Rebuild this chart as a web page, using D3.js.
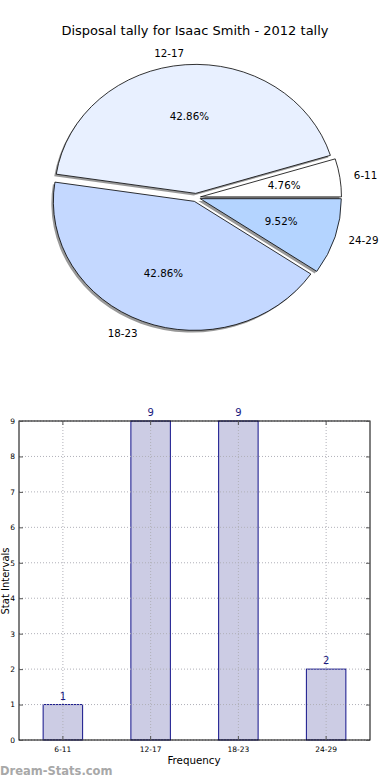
<!DOCTYPE html>
<html><head><meta charset="utf-8">
<script src="https://cdn.jsdelivr.net/npm/d3@7"></script>
<style>html,body{margin:0;padding:0;background:#fff;}svg{display:block;font-family:"DejaVu Sans",sans-serif;}</style>
</head><body>
<script>
const title = "Disposal tally for Isaac Smith - 2012 tally";
const categories = ["6-11", "12-17", "18-23", "24-29"];
const counts = [1, 9, 9, 2];
const pieColors = ["#ffffff", "#e8f0ff", "#c4d8ff", "#b4d4ff"];
const yTicks = [0, 1, 2, 3, 4, 5, 6, 7, 8, 9];
const xLabel = "Frequency";
const yLabel = "Stat Intervals";
const watermark = "Dream-Stats.com";

const W = 390, H = 780;
const svg = d3.select("body").append("svg").attr("width", W).attr("height", H);

// ---------- Title ----------
svg.append("text").attr("x", 195).attr("y", 34.5).attr("text-anchor", "middle")
  .attr("font-size", 13).attr("fill", "#000").text(title);

// ---------- Pie ----------
const cx = 196, cy = 197.5, rx = 141, ry = 129, explode = 0.032;
const total = d3.sum(counts);
const pie = d3.pie().sort(null).value(d => d).startAngle(Math.PI / 2).endAngle(Math.PI / 2 - 2 * Math.PI);
const arcs = pie(counts);
const arc = d3.arc().innerRadius(0).outerRadius(rx);
const sy = ry / rx;

function offset(a, f) {
  const mid = (a.startAngle + a.endAngle) / 2;
  return [f * rx * Math.sin(mid), -f * ry * Math.cos(mid)];
}

const pieG = svg.append("g");
// shadows
arcs.forEach((a, i) => {
  const [ox, oy] = offset(a, explode);
  pieG.append("path")
    .attr("transform", `translate(${cx + ox - 2},${cy + oy + 2.2}) scale(1,${sy})`)
    .attr("d", arc(a)).attr("fill", "#000").attr("fill-opacity", 0.4);
});
arcs.forEach((a, i) => {
  const [ox, oy] = offset(a, explode);
  pieG.append("path")
    .attr("transform", `translate(${cx + ox},${cy + oy}) scale(1,${sy})`)
    .attr("d", arc(a)).attr("fill", pieColors[i]).attr("stroke", "#000")
    .attr("stroke-width", 0.8).attr("vector-effect", "non-scaling-stroke");
});
// labels
arcs.forEach((a, i) => {
  const [ox, oy] = offset(a, explode);
  const mid = (a.startAngle + a.endAngle) / 2;
  const ux = Math.sin(mid), uy = -Math.cos(mid);
  const lx = cx + ox + 1.1 * rx * ux, ly = cy + oy + 1.1 * ry * uy;
  svg.append("text").attr("x", lx).attr("y", ly + (uy < -0.9 ? 2 : 0)).attr("dy", "0.35em")
    .attr("text-anchor", ux > 0 ? "start" : "end")
    .attr("font-size", 10.3).text(categories[i]);
  const px = cx + ox + 0.6 * rx * ux, py = cy + oy + 0.6 * ry * uy;
  svg.append("text").attr("x", px).attr("y", py).attr("dy", "0.35em")
    .attr("text-anchor", "middle").attr("font-size", 10.3)
    .text((counts[i] / total * 100).toFixed(2) + "%");
});

// ---------- Bar chart ----------
const L = 19, R = 370, T = 421, B = 740;
const x = d3.scaleBand().domain(categories).range([L, R]).padding(0);
const y = d3.scaleLinear().domain([0, 9]).range([B, T]);
const bw = x.bandwidth() * 0.45;
const bar = svg.append("g");

// bars
bar.selectAll(".b").data(counts).enter().append("rect")
  .attr("x", (d, i) => x(categories[i]) + (x.bandwidth() - bw) / 2)
  .attr("y", d => y(d)).attr("width", bw).attr("height", d => B - y(d))
  .attr("fill", "#ccccE4").attr("stroke", "#12128a").attr("stroke-width", 1);

// grid (drawn above bars as in the reference)
bar.selectAll(".gx").data(categories).enter().append("line")
  .attr("x1", d => x(d) + x.bandwidth() / 2).attr("x2", d => x(d) + x.bandwidth() / 2)
  .attr("y1", T).attr("y2", B)
  .attr("stroke", "#b0b0b8").attr("stroke-width", 1).attr("stroke-dasharray", "1,2");
bar.selectAll(".gy").data(yTicks).enter().append("line")
  .attr("x1", L).attr("x2", R).attr("y1", d => y(d)).attr("y2", d => y(d))
  .attr("stroke", "#b0b0b8").attr("stroke-width", 1).attr("stroke-dasharray", "1,2");

// value labels
bar.selectAll(".v").data(counts).enter().append("text")
  .attr("x", (d, i) => x(categories[i]) + x.bandwidth() / 2)
  .attr("y", d => y(d) - 5).attr("text-anchor", "middle")
  .attr("font-size", 10).attr("fill", "#1a1a80").text(d => d);

// frame
bar.append("rect").attr("x", L).attr("y", T).attr("width", R - L).attr("height", B - T)
  .attr("fill", "none").attr("stroke", "#000").attr("stroke-width", 1);

// axes
const yAxis = d3.axisLeft(y).tickValues(yTicks).tickSize(-4).tickPadding(4);
const gy = bar.append("g").attr("transform", `translate(${L},0)`).call(yAxis);
gy.select(".domain").remove();
gy.selectAll("text").attr("font-size", 7.5).attr("font-family", "DejaVu Sans");
const yAxisR = d3.axisRight(y).tickValues(yTicks).tickSize(-4).tickFormat("");
const gyr = bar.append("g").attr("transform", `translate(${R},0)`).call(yAxisR);
gyr.select(".domain").remove();
const xAxis = d3.axisBottom(x).tickSize(-4).tickPadding(7);
const gx = bar.append("g").attr("transform", `translate(0,${B})`).call(xAxis);
gx.select(".domain").remove();
gx.selectAll("text").attr("font-size", 7.5).attr("font-family", "DejaVu Sans");
const xAxisT = d3.axisTop(x).tickSize(-4).tickFormat("");
const gxt = bar.append("g").attr("transform", `translate(0,${T})`).call(xAxisT);
gxt.select(".domain").remove();
bar.selectAll(".tick line").attr("stroke", "#555");

svg.append("text").attr("x", 194).attr("y", 764).attr("text-anchor", "middle")
  .attr("font-size", 10.3).text(xLabel);
svg.append("text").attr("transform", "translate(9,581) rotate(-90)")
  .attr("text-anchor", "middle").attr("font-size", 10).text(yLabel);

svg.append("text").attr("x", 0).attr("y", 775).attr("font-size", 11.5)
  .attr("font-weight", "bold").attr("fill", "#a8a8a8").text(watermark);
</script>
</body></html>
